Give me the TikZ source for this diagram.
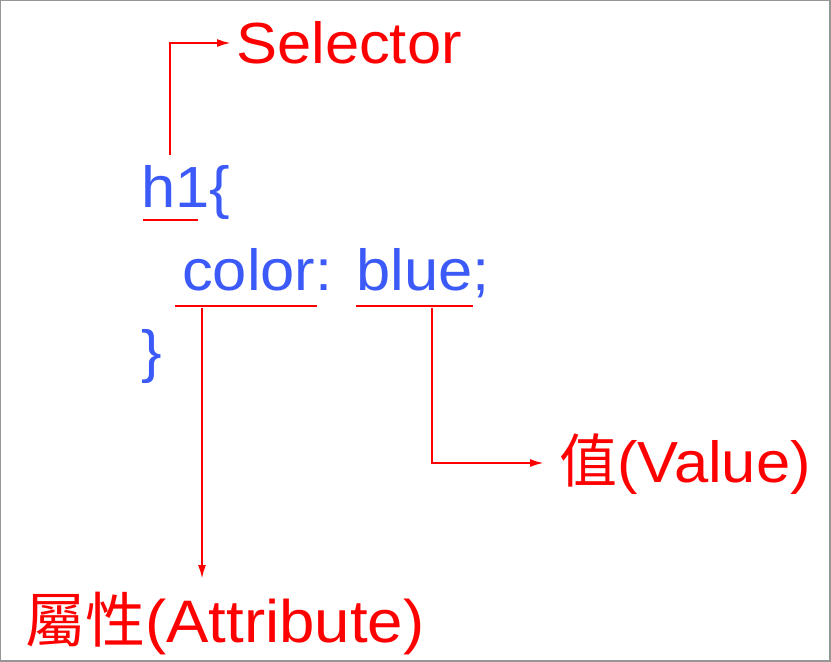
\documentclass[tikz,border=0pt]{standalone}
\usepackage{fontspec}
\setmainfont[FakeStretch=1.06]{Liberation Sans}
\newfontfamily\cjk{Noto Sans CJK TC}
\usetikzlibrary{arrows.meta}
\definecolor{codeblue}{RGB}{60,90,248}
\definecolor{annred}{RGB}{255,0,0}
\definecolor{framegray}{RGB}{150,150,150}
\tikzset{
  code/.style={text=codeblue, inner sep=0pt, anchor=base west, font=\fontsize{58}{58}\selectfont},
  ann/.style={text=annred, inner sep=0pt, anchor=base west, font=\fontsize{58}{58}\selectfont},
  uline/.style={draw=annred, line width=2.3pt},
  conn/.style={draw=annred, line width=2.2pt, -{Latex[length=14pt,width=8pt]}},
}
\begin{document}
\begin{tikzpicture}[x=1pt,y=-1pt]
\fill[framegray] (0,0) rectangle (831,662);
\fill[white] (1,1) rectangle (829,660);
\useasboundingbox (0,0) rectangle (831,662);
% code text
\node[code] (h1) at (141,207) {h1};
\node[code] (lb) at (h1.base east) {\{};
\node[code] (colorw) at (182,290) {color:};
\node[code] (bluew) at (356,290) {blue;};
\node[code] (rb) at (141,371) {\}};
% labels
\node[ann] (sel) at (236,63) {Selector};
\node[ann] (val) at (559,482) {{\cjk 值}(Value)};
\node[ann, font=\fontsize{60}{60}\selectfont] (attr) at (25,642) {{\cjk 屬性}(Attribute)};
% underlines
\coordinate (h1a) at (143,220); \coordinate (h1b) at (198,220);
\coordinate (ca) at (175,306); \coordinate (cb) at (317,306);
\coordinate (ba) at (356,306); \coordinate (bb) at (473,306);
\draw[uline] (h1a) -- (h1b);
\draw[uline] (ca) -- (cb);
\draw[uline] (ba) -- (bb);
% connectors
\coordinate (s0) at (170,155);
\coordinate (sTip) at (231,43);
\draw[conn] (s0) |- (sTip);
\coordinate (c0) at (202,308);
\coordinate (cTip) at (202,579);
\draw[conn] (c0) -- (cTip);
\coordinate (v0) at (432,308);
\coordinate (vTip) at (544,463);
\draw[conn] (v0) |- (vTip);
\end{tikzpicture}
\end{document}
